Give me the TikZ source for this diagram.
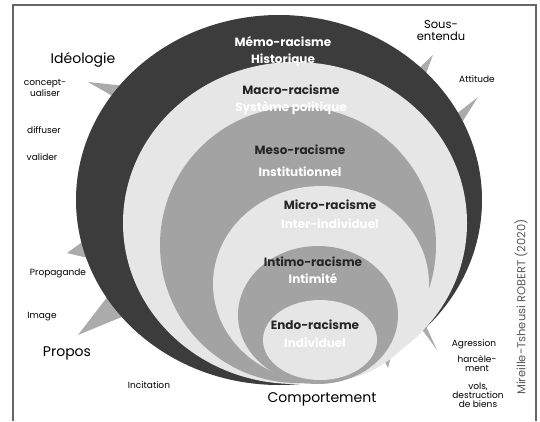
\documentclass[tikz,border=0pt]{standalone}
\usepackage{fontspec}
\setmainfont{Poppins}
\usepackage{tikz}

\definecolor{ringdark}{HTML}{3C3C3C}
\definecolor{ringlight}{HTML}{E6E6E6}
\definecolor{ringmid}{HTML}{A3A3A3}
\definecolor{spikegray}{HTML}{ABABAB}
\definecolor{framegray}{HTML}{666666}

\tikzset{
  spike/.style={fill=spikegray},
  ringtitle/.style={font=\fontsize{12}{13}\selectfont\bfseries, text=black!85},
  ringsub/.style={font=\fontsize{12}{13}\selectfont\bfseries, text=white},
  biglabel/.style={font=\fontsize{14}{16}\selectfont},
  midlabel/.style={font=\fontsize{11.5}{12}\selectfont, align=center},
  smalllabel/.style={font=\fontsize{9}{9}\selectfont, align=center},
}

\begin{document}
\begin{tikzpicture}[x=1pt, y=-1pt]
    \useasboundingbox (0, 0) rectangle (540, 421);
    % frame
    \draw [framegray, line width=1.2pt] (13, 421) -- (13, 5) -- (536, 5) -- (536, 421);
    % spikes (behind the rings)
    \fill [spike] (88, 82) -- (116, 98) -- (126, 86) -- cycle;
    \fill [spike] (433, 55) -- (415, 72) -- (425, 76) -- cycle;
    \fill [spike] (478, 97) -- (455, 115) -- (461, 124) -- cycle;
    \fill [spike] (67, 253) -- (85, 240) -- (88, 258) -- cycle;
    \fill [spike] (78, 335) -- (108, 296) -- (124, 316) -- cycle;
    \fill [spike] (437, 350) -- (418, 324) -- (426, 326) -- cycle;
    \fill [spike] (388, 368) -- (382, 356) -- (392, 352) -- cycle;
    % rings, outside in
    \fill [ringdark] (279, 200) ellipse [x radius=203, y radius=185];
    \fill [ringlight] (295, 223) ellipse [x radius=172, y radius=161];
    \fill [ringmid] (298, 245) ellipse [x radius=138, y radius=138];
    \fill [ringlight] (321, 284) ellipse [x radius=108, y radius=98];
    \fill [ringmid] (318, 315) ellipse [x radius=80, y radius=69];
    \fill [ringlight] (320, 340) ellipse [x radius=57, y radius=40];
    % ring labels
    \node [ringsub] (memo) at (283, 42) {Mémo-racisme};
    \node [ringsub] (memosub) at (283, 60) {Historique};
    \node [ringtitle] (macro) at (291, 90) {Macro-racisme};
    \node [ringsub] (macrosub) at (291, 108) {Système politique};
    \node [ringtitle] (meso) at (300, 150) {Meso-racisme};
    \node [ringsub] (mesosub) at (300, 172) {Institutionnel};
    \node [ringtitle] (micro) at (330, 205) {Micro-racisme};
    \node [ringsub] (microsub) at (330, 224) {Inter-individuel};
    \node [ringtitle] (intimo) at (313, 262) {Intimo-racisme};
    \node [ringsub] (intimosub) at (313, 279) {Intimité};
    \node [ringtitle] (endo) at (315, 325) {Endo-racisme};
    \node [ringsub] (endosub) at (315, 343) {Individuel};
    % left side
    \node [biglabel] (ideo) at (83, 60) {Idéologie};
    \node [smalllabel] (concept) at (45, 88) {concept-\\ualiser};
    \node [smalllabel] (diffuser) at (44, 130) {diffuser};
    \node [smalllabel] (valider) at (42, 157) {valider};
    \node [smalllabel] (propa) at (58, 273) {Propagande};
    \node [smalllabel] (image) at (42, 317) {Image};
    \node [biglabel] (propos) at (67, 353) {Propos};
    \node [smalllabel] (incit) at (149, 385) {Incitation};
    % right side
    \node [midlabel] (sous) at (441, 30) {Sous-\\entendu};
    \node [smalllabel] (attitude) at (477, 79) {Attitude};
    \node [smalllabel] (agress) at (474, 344) {Agression};
    \node [smalllabel] (harcel) at (477, 364) {harcèle-\\ment};
    \node [smalllabel] (vols) at (478, 395) {vols,\\destruction\\de biens};
    \node [biglabel] (compo) at (322, 399) {Comportement};
    \node [font=\fontsize{11.5}{12}\selectfont, text=black!65, rotate=90] (auteur) at (521, 307) {Mireille-Tsheusi ROBERT (2020)};
\end{tikzpicture}
\end{document}
